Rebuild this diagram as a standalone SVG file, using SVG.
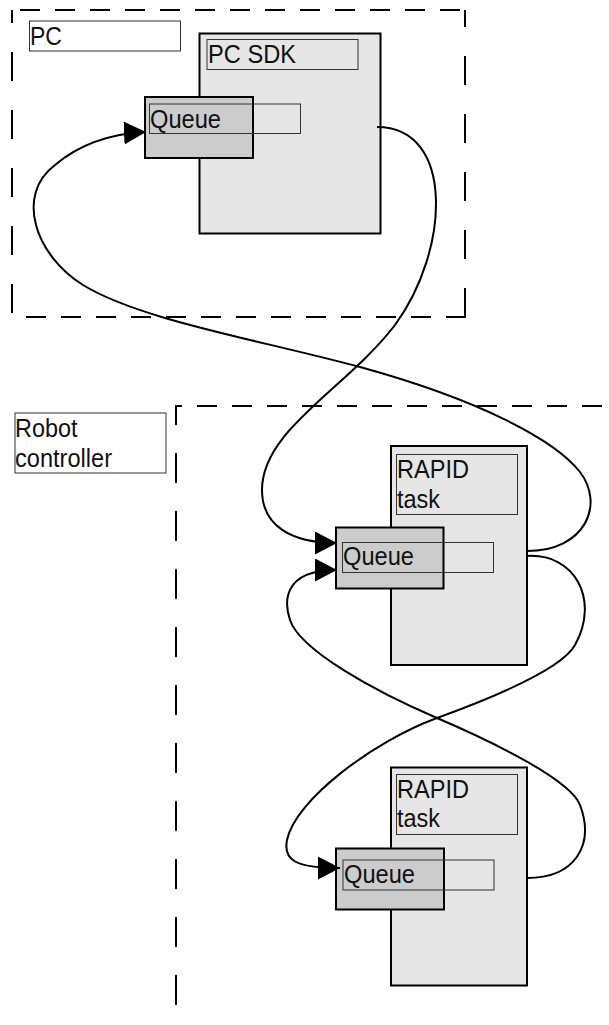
<svg xmlns="http://www.w3.org/2000/svg" width="609" height="1025" viewBox="0 0 609 1025">
<style>
.dash{stroke:#000;stroke-width:2;fill:none}
.h{stroke-dasharray:20 15}
.v{stroke-dasharray:29 29}
.big{fill:#e6e6e6;stroke:#000;stroke-width:2}
.q{fill:#cccccc;stroke:#000;stroke-width:2}
.lbl{fill:none;stroke:#333;stroke-width:1}
.t{font-family:"Liberation Sans",Arial,sans-serif;font-size:25px;fill:#111}
.con{fill:none;stroke:#000;stroke-width:2}
</style>
<defs>
<marker id="arr" markerUnits="userSpaceOnUse" markerWidth="24" markerHeight="24" refX="22" refY="11.5" orient="auto">
<path d="M0,0 L22,11.5 L0,23 Z" fill="#000"/>
</marker>
</defs>
<rect width="609" height="1025" fill="#fff"/>
<g id="pc-boundary">
<line class="dash h" x1="20" y1="10" x2="465" y2="10"/>
<line class="dash v" x1="465" y1="317" x2="465" y2="10"/>
<line class="dash v" x1="12" y1="313" x2="12" y2="10"/>
<line class="dash h" x1="466" y1="317" x2="12" y2="317"/>
<rect class="lbl" x="29.5" y="21" width="151" height="30"/>
<text class="t" x="30" y="45" textLength="32" lengthAdjust="spacingAndGlyphs">PC</text>
</g>
<g id="robot-boundary">
<line class="dash" x1="175" y1="406" x2="609" y2="406" stroke-dasharray="20 15" stroke-dashoffset="13"/>
<line class="dash" x1="176" y1="406" x2="176" y2="1025" stroke-dasharray="30 28" stroke-dashoffset="11"/>
<rect class="lbl" x="15" y="413" width="151" height="60"/>
<text class="t" x="15" y="437" textLength="62.5" lengthAdjust="spacingAndGlyphs">Robot</text>
<text class="t" x="15" y="467" textLength="97" lengthAdjust="spacingAndGlyphs">controller</text>
</g>
<g id="pc-sdk">
<rect class="big" x="199.5" y="33.5" width="181" height="200"/>
<rect class="lbl" x="207" y="39.5" width="151" height="30"/>
<text class="t" x="208" y="63" textLength="88" lengthAdjust="spacingAndGlyphs">PC SDK</text>
</g>
<g id="pc-queue">
<rect class="q" x="145" y="97" width="108" height="61"/>
<rect class="lbl" x="149.5" y="104" width="151" height="29.5"/>
<text class="t" x="150" y="128" textLength="71" lengthAdjust="spacingAndGlyphs">Queue</text>
</g>
<g id="rapid-task-1">
<rect class="big" x="391" y="446" width="136" height="219"/>
<rect class="lbl" x="396.5" y="454.5" width="121" height="60"/>
<text class="t" x="397" y="478" textLength="72" lengthAdjust="spacingAndGlyphs">RAPID</text>
<text class="t" x="397" y="508" textLength="43" lengthAdjust="spacingAndGlyphs">task</text>
</g>
<g id="queue-1">
<rect class="q" x="336" y="527.5" width="107.5" height="61"/>
<rect class="lbl" x="342.5" y="542.5" width="151" height="30"/>
<text class="t" x="343" y="565" textLength="71" lengthAdjust="spacingAndGlyphs">Queue</text>
</g>
<g id="rapid-task-2">
<rect class="big" x="391" y="767.5" width="136" height="218"/>
<rect class="lbl" x="396.5" y="774.5" width="121" height="60"/>
<text class="t" x="397" y="798" textLength="72" lengthAdjust="spacingAndGlyphs">RAPID</text>
<text class="t" x="397" y="827" textLength="43" lengthAdjust="spacingAndGlyphs">task</text>
</g>
<g id="queue-2">
<rect class="q" x="336" y="848.5" width="108" height="61"/>
<rect class="lbl" x="343" y="860" width="151" height="30"/>
<text class="t" x="344" y="883" textLength="71" lengthAdjust="spacingAndGlyphs">Queue</text>
</g>
<g id="connectors">
<path class="con" marker-end="url(#arr)" d="M377,127 C455,127 450,250 395,325 C345,390 262,430 262,490 C262,525 290,543 337,543"/>
<path class="con" marker-end="url(#arr)" d="M527,551 C585,551 605,505 580,472 C555,440 480,400 360,367 C260,340 140,320 83,285 C35,255 15,195 55,165 C75,148 105,134 146,132"/>
<path class="con" marker-end="url(#arr)" d="M527,556 C575,553 600,600 575,645 C563,667 500,695 437,718 C374,741 295,800 287,840 C283,860 295,868 340,868"/>
<path class="con" marker-end="url(#arr)" d="M527,878 C575,878 595,845 580,805 C571,781 500,745 437,718 C374,691 300,650 290,620 C285,605 280,570 337,570"/>
</g>
</svg>
